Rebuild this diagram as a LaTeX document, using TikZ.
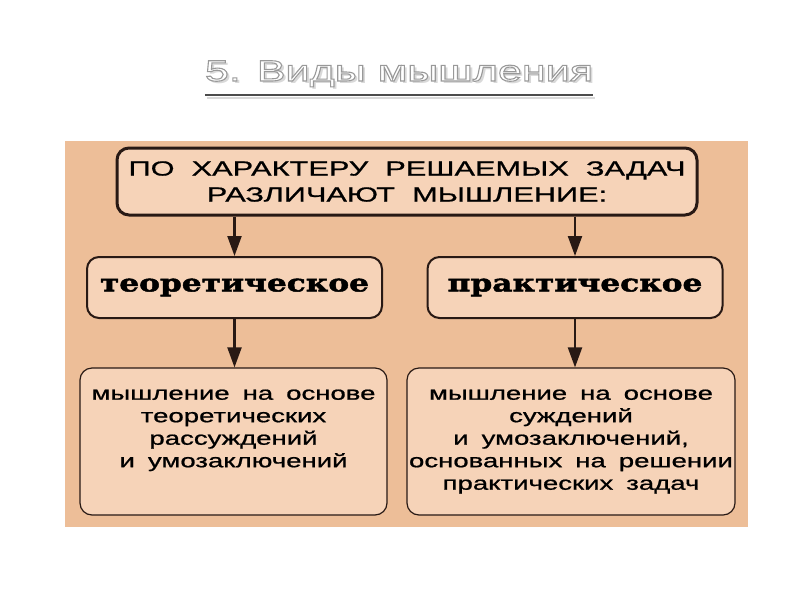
\documentclass[tikz,border=0pt]{standalone}
\usepackage{fontspec}
\setmainfont{Liberation Sans}
\newfontfamily\titlefont[FakeStretch=1.46]{Liberation Sans}
\newfontfamily\capsfont[FakeStretch=1.5,WordSpace=2,FakeBold=0.8]{Liberation Sans}
\newfontfamily\boldserif[FakeStretch=1.3,FakeBold=2]{DejaVu Serif}
\newfontfamily\bodyfont[FakeStretch=1.45,WordSpace=1.7,FakeBold=0.9]{Liberation Sans}
\usetikzlibrary{positioning,calc,arrows.meta}
\definecolor{panel}{RGB}{237,190,152}
\definecolor{boxfill}{RGB}{246,211,184}
\definecolor{edge}{RGB}{40,25,20}
\newcommand\outlined[1]{\special{pdf:literal direct 2 Tr 0.6 G 1.1 w}#1\special{pdf:literal direct 0 Tr 0 G}}

\begin{document}
\begin{tikzpicture}[x=1pt,y=-1pt]
\tikzset{box/.style={draw=edge, fill=boxfill, rounded corners=12pt, inner sep=0pt},
  kind/.style={box, line width=2pt, minimum width=295pt, minimum height=61pt, font=\boldserif\bfseries\fontsize{24}{26}\selectfont},
  desc/.style={box, line width=1.2pt, minimum height=147pt, font=\bodyfont\fontsize{19}{22.5}\selectfont},
  arr/.style={-{Triangle[length=20pt,width=14pt]}, line width=2.2pt, draw=edge, fill=edge},
  titletext/.style={anchor=base, inner sep=0pt, font=\titlefont\fontsize{29.5}{30}\selectfont}};
   \useasboundingbox (0,0) rectangle (794,595);
   \fill[panel] (65,141) rectangle (748,527);

   % title with shadow
   \node[titletext, text=gray!30] (titleshadow) at (401.5,83.5) {5. Виды мышления};
   \node[titletext, text=white] (title) at (399,81) {\outlined{5. Виды мышления}};
   \draw[gray!30, line width=2pt] ([xshift=2pt,yshift=-16.5pt]title.base west) -- ([xshift=2pt,yshift=-16.5pt]title.base east);
   \draw[gray!60!black, line width=2pt] ([yshift=-14pt]title.base west) -- ([yshift=-14pt]title.base east);

   \node[box, line width=3pt, minimum width=580pt, minimum height=67pt, align=center,
         font=\capsfont\fontsize{20.5}{26}\selectfont] (Q) at (407,181.5)
         {ПО ХАРАКТЕРУ РЕШАЕМЫХ ЗАДАЧ\\РАЗЛИЧАЮТ МЫШЛЕНИЕ:};

   \node[kind] (Th) at (234.5,287.5) {теоретическое};
   \node[kind] (Pr) at (575,287.5) {практическое};

   \node[desc, minimum width=307pt] (ThD) at (233.5,441.5)
      {\parbox[t][104pt][t]{304pt}{\centering мышление на основе\\теоретических\\рассуждений\\и умозаключений}};
   \node[desc, minimum width=328pt] (PrD) at (571,441.5)
      {\parbox[t][104pt][t]{328pt}{\centering мышление на основе\\суждений\\и умозаключений,\\основанных на решении\\практических задач}};

   \draw[arr] (Th.north |- Q.south) -- (Th.north);
   \draw[arr] (Pr.north |- Q.south) -- (Pr.north);
   \draw[arr] (Th.south) -- (Th.south |- ThD.north);
   \draw[arr] (Pr.south) -- (Pr.south |- PrD.north);
\end{tikzpicture}
\end{document}
